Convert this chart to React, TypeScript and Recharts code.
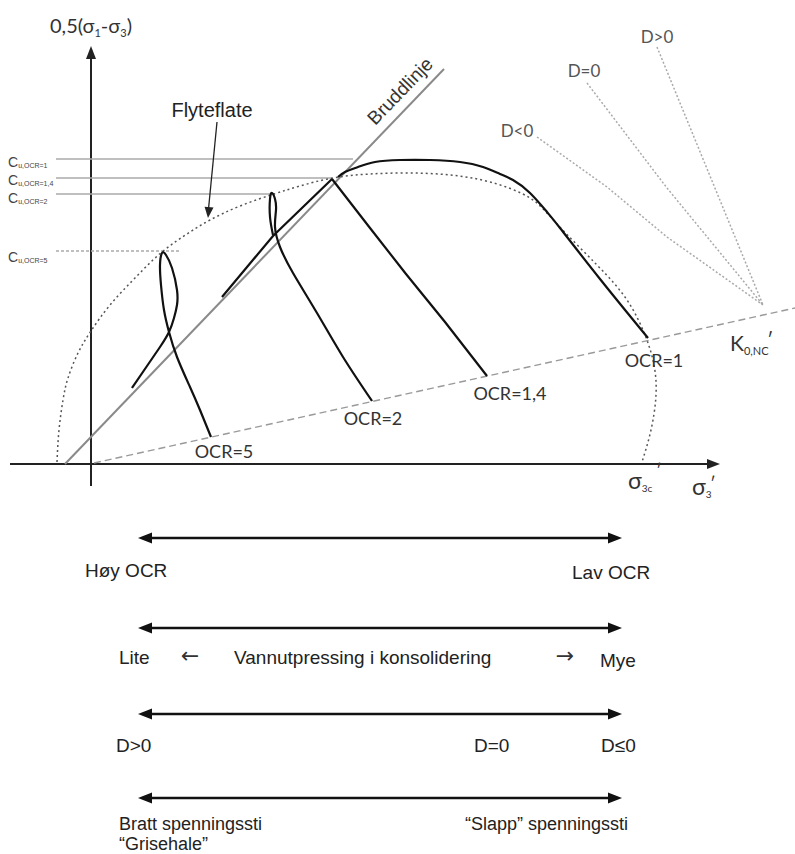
import React from 'react';
import { ComposedChart, XAxis, YAxis, Line, ReferenceLine, ReferenceDot } from 'recharts';

type P = [number, number];

// ---------- data (diagram units, origin where the axes cross) ----------
const yieldSurface: P[] = [
  [-34, 2], [-32, 34], [-28, 64], [-23, 86], [-13, 111], [0, 133], [19, 159], [44, 186],
  [71, 212], [99, 232], [119, 244], [149, 258], [183, 270], [209, 278], [242, 286], [279, 290],
  [319, 291], [359, 289], [399, 282], [439, 266], [466, 240], [506, 199], [536, 164], [554, 129],
  [563, 99], [565, 69], [560, 34], [551, 2],
];
const pathOCR1: P[] = [
  [557, 126], [509, 185], [469, 236], [456, 252], [439, 271], [422, 284], [409, 290], [392, 297],
  [369, 302], [339, 304], [309, 304], [284, 302], [267, 297], [254, 292], [247, 287],
];
const pathOCR14: P[] = [[396, 88], [354, 142], [315, 190], [279, 236], [241, 285]];
const pathFailureTail: P[] = [[241, 285], [182, 228], [131, 167]];
const pathOCR2: P[] = [
  [281, 63], [252, 107], [226, 151], [202, 191], [189, 217], [184, 237], [185, 254], [184, 265],
  [181, 271], [179, 265], [179, 247], [182, 229],
];
const pathOCR5: P[] = [
  [120, 27], [109, 54], [99, 77], [86, 107], [78, 132], [73, 154], [70, 179], [69, 199], [71, 211],
  [75, 209], [81, 196], [86, 174], [86, 159], [83, 146], [78, 132], [69, 117], [56, 98], [41, 76],
];
const failureLine: P[] = [[-26, 0], [353, 395]];
const k0Line: P[] = [[3, 1], [704, 156]];
const dLineNeg: P[] = [[446, 327], [516, 277], [576, 227], [672, 159]];
const dLineZero: P[] = [[496, 381], [576, 276], [672, 159]];
const dLinePos: P[] = [[566, 417], [672, 159]];

const cuLevels = [305, 286, 270, 213];
const cuEnds = [262, 241, 180, 89];
const cuSubs = ['u,OCR=1', 'u,OCR=1,4', 'u,OCR=2', 'u,OCR=5'];

const ocrLabels = ['OCR=1', 'OCR=1,4', 'OCR=2', 'OCR=5'];
const ocrLabelPos: P[] = [[563, 104], [419, 71], [282, 46], [133, 13]];
const dLabels = ['D<0', 'D=0', 'D>0'];
const dLabelPos: P[] = [[426, 334], [493, 394], [566, 428]];

const scaleLevels = [-74, -164, -250, -334];
const scaleEnds: P = [47, 531];

// ---------- helpers ----------
const chartFont = "Lato, 'Open Sans', sans-serif";
const sansFont = "'Liberation Sans', Arial, sans-serif";
const toPts = (a: P[]) => a.map(([x, y]) => ({ x, y }));

const curve = (key: string, arr: P[], props: any) => (
  <Line key={key} data={toPts(arr)} dataKey="y" dot={false} activeDot={false}
    isAnimationActive={false} legendType="none" {...props} />
);

const seg = (key: string, a: P, b: P, props: any) => (
  <ReferenceLine key={key} segment={[{ x: a[0], y: a[1] }, { x: b[0], y: b[1] }]}
    ifOverflow="visible" {...props} />
);

const head = (key: string, x: number, y: number, angle: number, len = 13, half = 5, fill = '#111') => (
  <ReferenceDot key={key} x={x} y={y} r={0} ifOverflow="visible"
    shape={(p: any) => {
      const a = (angle * Math.PI) / 180;
      const dx = Math.cos(a), dy = Math.sin(a);
      const bx = p.cx - dx * len, by = p.cy - dy * len;
      const nx = -dy, ny = dx;
      const pts = `${p.cx},${p.cy} ${bx + nx * half},${by + ny * half} ${bx - nx * half},${by - ny * half}`;
      return <polygon points={pts} fill={fill} />;
    }} />
);

const label = (key: string, x: number, y: number, content: any, style: any = {}, rotate?: number) => (
  <ReferenceDot key={key} x={x} y={y} r={0} ifOverflow="visible"
    shape={(p: any) => (
      <text x={p.cx} y={p.cy}
        transform={rotate ? `rotate(${rotate} ${p.cx} ${p.cy})` : undefined}
        {...style}>{content}</text>
    )} />
);

const ocrStyle = { fontFamily: chartFont, fontSize: 18, fill: '#333', textAnchor: 'middle', dominantBaseline: 'central' };
const dStyle = { fontFamily: chartFont, fontSize: 17, fill: '#555', textAnchor: 'middle', dominantBaseline: 'central' };
const bottomStyle = { fontFamily: sansFont, fontSize: 19, fill: '#222', dominantBaseline: 'central' };
const lastRowStyle = { ...bottomStyle, fontSize: 18 };
const arrowGlyph = { fontFamily: "'DejaVu Sans', sans-serif", fontSize: 22, fill: '#333', textAnchor: 'middle', dominantBaseline: 'central' };
const primeStyle = { fontFamily: chartFont, fontSize: 17, fill: '#333' };

export default function App() {
  return (
    <div style={{ position: 'absolute', left: 0, top: 0, width: 795, height: 854, background: '#fff' }}>
      <ComposedChart width={795} height={854} margin={{ top: 0, right: 0, bottom: 0, left: 0 }}>
        <XAxis type="number" dataKey="x" domain={[-91, 704]} hide allowDataOverflow />
        <YAxis type="number" domain={[-390, 464]} hide allowDataOverflow />

        {/* axes */}
        {seg('xaxis', [-81, 0], [620, 0], { stroke: '#222', strokeWidth: 2 })}
        {head('xhead', 629, 0, 0, 13, 5, '#222')}
        {seg('yaxis', [0, -22], [0, 408], { stroke: '#222', strokeWidth: 2 })}
        {head('yhead', 0, 418, -90, 13, 5, '#222')}

        {/* c_u levels */}
        {cuLevels.map((lv, i) =>
          seg('cu' + i, [-35, lv], [cuEnds[i], lv], {
            stroke: '#aaa', strokeWidth: 1.5, strokeDasharray: i === 3 ? '3 2' : undefined,
          }))}

        {/* reference lines */}
        {curve('k0', k0Line, { type: 'linear', stroke: '#9a9a9a', strokeWidth: 1.5, strokeDasharray: '7 4' })}
        {curve('fail', failureLine, { type: 'linear', stroke: '#8a8a8a', strokeWidth: 2 })}
        {curve('dneg', dLineNeg, { type: 'linear', stroke: '#aaa', strokeWidth: 1.5, strokeDasharray: '2 2' })}
        {curve('dzero', dLineZero, { type: 'linear', stroke: '#aaa', strokeWidth: 1.5, strokeDasharray: '2 2' })}
        {curve('dpos', dLinePos, { type: 'linear', stroke: '#aaa', strokeWidth: 1.5, strokeDasharray: '2 2' })}
        {curve('yield', yieldSurface, { type: 'natural', stroke: '#555', strokeWidth: 1.5, strokeDasharray: '2 3' })}

        {/* stress paths */}
        {curve('ocr1', pathOCR1, { type: 'natural', stroke: '#111', strokeWidth: 2.2 })}
        {curve('ocr14', pathOCR14, { type: 'linear', stroke: '#111', strokeWidth: 2.2 })}
        {curve('tail', pathFailureTail, { type: 'linear', stroke: '#111', strokeWidth: 2.2 })}
        {curve('ocr2', pathOCR2, { type: 'natural', stroke: '#111', strokeWidth: 2.2 })}
        {curve('ocr5', pathOCR5, { type: 'natural', stroke: '#111', strokeWidth: 2.2 })}

        {/* Flyteflate arrow */}
        {seg('flyarrow', [126, 342], [117.6, 256], { stroke: '#222', strokeWidth: 1.3 })}
        {head('flyhead', 117, 246, 95.4, 11, 4.5, '#222')}

        {/* chart labels */}
        {label('ytitle', -41, 431, (
          <>0,5(σ<tspan fontSize={11} dy={4}>1</tspan><tspan dy={-4}>-σ</tspan><tspan fontSize={11} dy={4}>3</tspan><tspan dy={-4}>)</tspan></>
        ), { fontFamily: chartFont, fontSize: 20, fill: '#333' })}
        {label('flyte', 121, 354, 'Flyteflate', { fontFamily: sansFont, fontSize: 20, fill: '#222', textAnchor: 'middle', dominantBaseline: 'central' })}
        {label('brudd', 309, 373, 'Bruddlinje', { fontFamily: sansFont, fontSize: 19, fill: '#333', textAnchor: 'middle', dominantBaseline: 'central' }, -46)}
        {cuSubs.map((s, i) => label('cul' + i, -83, [297, 279, 261, 202][i], (
          <>C<tspan fontSize={7} dy={1}>{s}</tspan></>
        ), { fontFamily: sansFont, fontSize: 14, fill: '#444' }))}
        {ocrLabels.map((t, i) => label('ocr' + i, ocrLabelPos[i][0], ocrLabelPos[i][1], t, ocrStyle))}
        {dLabels.map((t, i) => label('dl' + i, dLabelPos[i][0], dLabelPos[i][1], t, dStyle))}
        {label('k0lab', 639, 113, (
          <>K<tspan fontSize={11} dy={4}>0,NC</tspan></>
        ), { fontFamily: chartFont, fontSize: 21, fill: '#333' })}
        {label('k0prime', 676, 117, '′', { ...primeStyle, fontSize: 19 })}
        {label('s3c', 537, -25, (
          <>σ<tspan fontSize={10} dy={3}>3c</tspan></>
        ), { fontFamily: chartFont, fontSize: 23, fill: '#333' })}
        {label('s3cprime', 565, -13, '′', primeStyle)}
        {label('s3', 601, -31, (
          <>σ<tspan fontSize={10} dy={3}>3</tspan></>
        ), { fontFamily: chartFont, fontSize: 23, fill: '#333' })}
        {label('s3prime', 619, -26, '′', primeStyle)}

        {/* bottom scales */}
        {scaleLevels.map((lv, i) => seg('sc' + i, [scaleEnds[0] + 6, lv], [scaleEnds[1] - 6, lv], { stroke: '#111', strokeWidth: 2.5 }))}
        {scaleLevels.map((lv, i) => head('scl' + i, scaleEnds[0], lv, 180, 14, 5.5))}
        {scaleLevels.map((lv, i) => head('scr' + i, scaleEnds[1], lv, 0, 14, 5.5))}

        {label('b1', -6, -106, 'Høy OCR', bottomStyle)}
        {label('b2', 481, -108, 'Lav OCR', bottomStyle)}
        {label('b3', 28, -193, 'Lite', bottomStyle)}
        {label('b4', 99, -191, '←', arrowGlyph)}
        {label('b5', 143, -193, 'Vannutpressing i konsolidering', bottomStyle)}
        {label('b6', 474, -191, '→', arrowGlyph)}
        {label('b7', 509, -196, 'Mye', bottomStyle)}
        {label('b8', 25, -281, 'D>0', bottomStyle)}
        {label('b9', 383, -281, 'D=0', bottomStyle)}
        {label('b10', 510, -281, 'D≤0', bottomStyle)}
        {label('b11', 28, -360, 'Bratt spenningssti', lastRowStyle)}
        {label('b12', 374, -360, '“Slapp” spenningssti', lastRowStyle)}
        {label('b13', 28, -380, '“Grisehale”', lastRowStyle)}
      </ComposedChart>
    </div>
  );
}
